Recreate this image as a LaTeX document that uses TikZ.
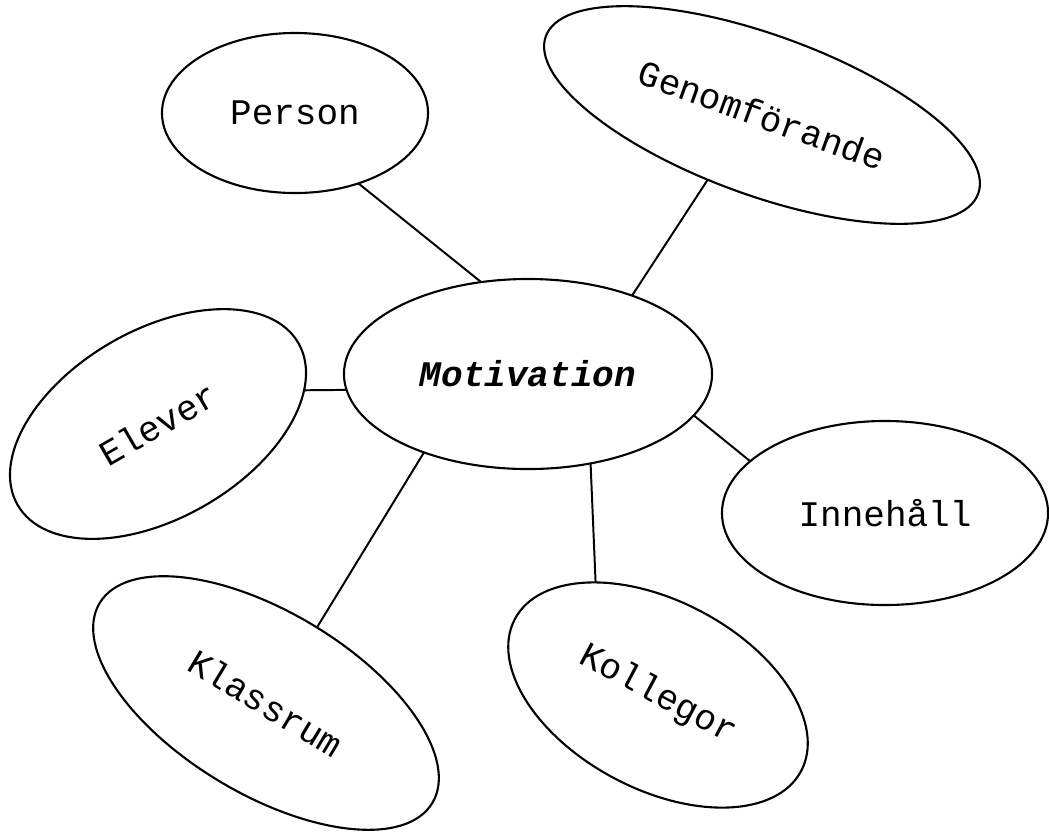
\documentclass[tikz,border=0pt]{standalone}
\usepackage{fontspec}
\setmonofont{Liberation Mono}
\usetikzlibrary{shapes.geometric}

\begin{document}
\begin{tikzpicture}[x=0.025cm, y=-0.025cm,
		bubble/.style={ellipse, draw, line width=1.5pt, inner sep=0pt, outer sep=0pt,
			font=\ttfamily\fontsize{25.6}{30}\selectfont},
		link/.style={line width=1.4pt}]
	\useasboundingbox (0,0) rectangle (1049,831);
	
	% centre
	\node[bubble, minimum width=9.2cm, minimum height=4.75cm] (mot) at (528,374) {\textbf{\textit{Motivation}}};
	
	% around it
	\node[bubble, minimum width=6.65cm, minimum height=4cm] (per) at (295,113) {Person};
	\node[bubble, minimum width=11.5cm, minimum height=4cm, rotate=-20] (gen) at (762,115) {Genomförande};
	\node[bubble, minimum width=8.1cm, minimum height=4.7cm, rotate=30] (elv) at (158,424) {Elever};
	\node[bubble, minimum width=8.15cm, minimum height=4.6cm] (inn) at (885,513) {Innehåll};
	\node[bubble, minimum width=9.7cm, minimum height=4.55cm, rotate=-31] (kla) at (266,703) {Klassrum};
	\node[bubble, minimum width=8.1cm, minimum height=4.7cm, rotate=-28] (kol) at (658,695) {Kollegor};
	
	\foreach \a/\b in {mot.117/per.-48, mot.37.5/gen.250, mot.185/elv.-17,
		mot.-14/inn.159.6, mot.217.6/kla.87.6, mot.-55/kol.147.5}
	\draw[link] (\a) -- (\b);
\end{tikzpicture}
\end{document}
